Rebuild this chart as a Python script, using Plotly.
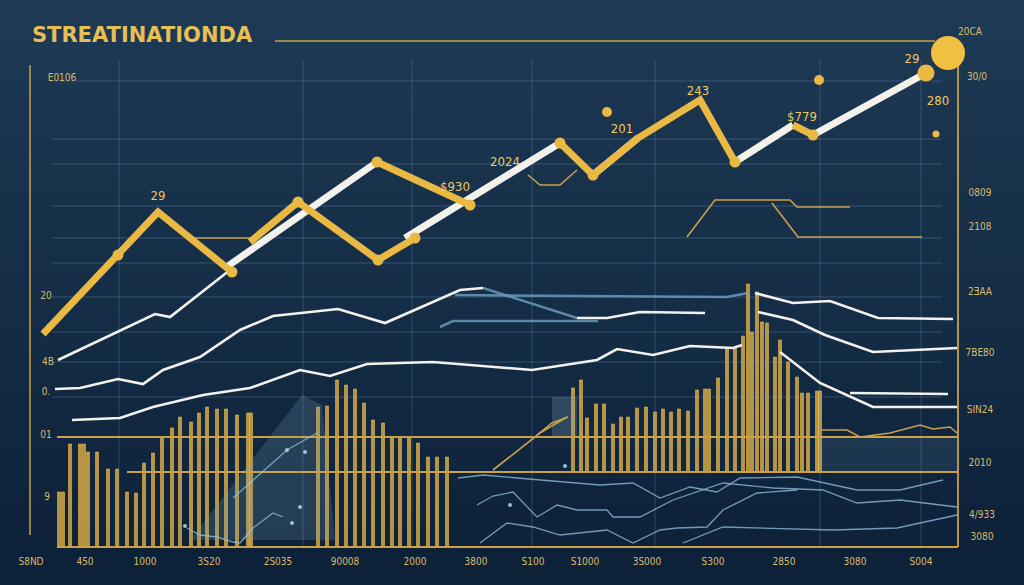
import plotly.graph_objects as go

# ---------------- data ----------------
title_text = "STREATINATIONDA"

# thick gold zig-zag segments
zig_a_x = [43, 118, 158, 232];          zig_a_y = [334, 255, 212, 272]
zig_b_x = [250, 298, 378, 415];         zig_b_y = [242, 202, 260, 238]
zig_c_x = [377, 470];                   zig_c_y = [162, 205]
zig_d_x = [560, 593, 638, 700, 735];    zig_d_y = [143, 175, 138, 100, 162]
zig_e_x = [793, 813];                   zig_e_y = [125, 135]

# thick white trend segments
trend_a_x = [228, 377];  trend_a_y = [266, 162]
trend_b_x = [405, 560];  trend_b_y = [238, 143]
trend_c_x = [593, 638];  trend_c_y = [175, 138]
trend_d_x = [735, 793];  trend_d_y = [162, 125]
trend_e_x = [813, 926];  trend_e_y = [135, 73]

# gold joint markers
joint_x = [118, 232, 378, 377, 470, 560, 593, 735, 813, 415, 298]
joint_y = [255, 272, 260, 162, 205, 143, 175, 162, 135, 238, 202]
dot_x = [607, 819, 936]
dot_y = [112, 80, 134]

# thin white lines
line1_x = [58, 100, 155, 170, 230]
line1_y = [360, 340, 314, 317, 270]
line2_x = [55, 80, 118, 143, 163, 200, 240, 273, 338, 385, 460, 483]
line2_y = [389, 388, 379, 384, 370, 357, 330, 316, 309, 323, 290, 288]
line2b_x = [577, 607, 640, 705]
line2b_y = [318, 318, 312, 313]
line3_x = [72, 120, 153, 203, 250, 300, 330, 367, 433, 532, 597, 617, 653, 690, 733, 742]
line3_y = [420, 418, 407, 395, 388, 370, 376, 364, 362, 370, 360, 349, 355, 346, 348, 345]
line4_x = [755, 793, 830, 878, 953]
line4_y = [293, 303, 301, 318, 319]
line5_x = [758, 793, 825, 873, 957]
line5_y = [312, 320, 335, 352, 348]
line6_x = [780, 820, 873, 957]
line6_y = [352, 383, 407, 407]
line7_x = [850, 948]
line7_y = [393, 394]

# steel blue lines
steel1_x = [483, 577];       steel1_y = [288, 318]
steel2_x = [455, 600, 727, 748];  steel2_y = [295, 296, 297, 293]
steel3_x = [440, 453, 598];  steel3_y = [327, 321, 321]

# gold bars (x, top) : base at bottom line
barsL_x = [59, 63, 70, 80, 84, 88, 97, 108, 117, 127, 136, 144, 153, 162, 172, 180, 191, 199, 207, 217, 226, 237, 248, 251]
barsL_top = [492, 492, 444, 444, 444, 452, 452, 469, 469, 492, 493, 463, 453, 437, 428, 417, 422, 413, 407, 409, 409, 415, 413, 413]
barsM_x = [318, 327, 337, 346, 355, 364, 373, 383, 392, 400, 409, 418, 428, 437, 447]
barsM_top = [407, 406, 380, 385, 389, 403, 420, 423, 437, 438, 438, 443, 457, 457, 457]
barsR_x = [573, 581, 587, 596, 604, 613, 621, 628, 637, 646, 655, 663, 671, 679, 688, 697, 705, 709,
           718, 727, 735, 743, 748, 752, 757, 762, 767, 775, 780, 788, 797, 802, 808, 817, 820]
barsR_top = [388, 380, 418, 404, 404, 424, 417, 417, 408, 407, 412, 409, 412, 409, 411, 390, 389, 389,
             378, 349, 348, 336, 284, 332, 292, 322, 323, 357, 340, 362, 377, 393, 393, 391, 391]

# thin gold accents
accent1_x = [528, 540, 560, 577];   accent1_y = [175, 185, 185, 170]
accent2_x = [195, 250];             accent2_y = [238, 238]
trap1_x = [687, 715, 790, 797, 850];  trap1_y = [237, 200, 200, 207, 207]
trap2_x = [772, 798, 922];            trap2_y = [203, 237, 237]
rise1_x = [493, 540, 567];            rise1_y = [470, 433, 417]
rise2_x = [537, 552, 568];            rise2_y = [435, 423, 417]
wave_x = [822, 847, 860, 890, 920, 933, 950, 957]
wave_y = [430, 430, 437, 433, 425, 429, 427, 433]

# faint blue lines in the lower band
blue_a_x = [458, 483, 517, 567, 600, 633, 660, 690, 717, 740, 797, 857, 900, 943]
blue_a_y = [478, 475, 478, 482, 485, 483, 498, 487, 492, 478, 477, 490, 490, 480]
blue_b_x = [477, 493, 513, 537, 557, 577, 607, 613, 627, 640, 673, 723, 773, 823, 857, 900, 957]
blue_b_y = [505, 496, 492, 517, 505, 510, 510, 517, 517, 517, 500, 483, 488, 490, 503, 500, 507]
blue_c_x = [480, 507, 533, 560, 607, 633, 660, 677, 707, 723, 757, 797]
blue_c_y = [543, 523, 527, 535, 530, 543, 530, 528, 527, 510, 493, 490]
blue_d_x = [683, 723, 833, 897, 957]
blue_d_y = [543, 527, 530, 528, 515]
blue_e_x = [187, 200, 217, 233, 240, 253, 273, 283]
blue_e_y = [528, 535, 537, 542, 543, 528, 513, 517]
blue_f_x = [233, 253, 287, 317]
blue_f_y = [498, 480, 450, 433]
blue_dot_x = [185, 287, 292, 300, 305, 510, 565]
blue_dot_y = [526, 450, 523, 507, 452, 505, 466]

# text labels (x, y, text)
left_lbl_x = [62, 46, 48, 46, 46, 47]
left_lbl_y = [78, 296, 362, 392, 435, 497]
left_lbl_t = ["E0106", "20", "4B", "0.", "01", "9"]
right_lbl_x = [980, 980, 980, 980, 980, 980, 982, 982, 970, 977]
right_lbl_y = [193, 227, 292, 353, 410, 463, 515, 537, 32, 77]
right_lbl_t = ["0809", "2108", "2ƎAA", "7BE80", "SIN24", "2010", "4/933", "3080", "20CA", "30/0"]
bottom_lbl_x = [31, 85, 145, 209, 278, 345, 415, 476, 533, 585, 647, 713, 784, 855, 921]
bottom_lbl_t = ["S8ND", "450", "1000", "3S20", "2S035", "90008", "2000", "3800", "S100",
                "S1000", "3S000", "S300", "2850", "3080", "S004"]
peak_lbl_x = [158, 455, 505, 622, 698, 802, 912, 938]
peak_lbl_y = [197, 188, 163, 130, 92, 118, 60, 102]
peak_lbl_t = ["29", "$930", "2024", "201", "243", "$779", "29", "280"]

# ---------------- styling ----------------
GOLD = "#e9b943"
GOLD_THIN = "#c9a14a"
WHITE = "#f3f1ec"
LBL = "#d9bb6a"

fig = go.Figure()

def seg(x, y, color, width, opacity=1.0):
    fig.add_trace(go.Scatter(x=x, y=y, mode="lines", line=dict(color=color, width=width),
                             opacity=opacity, hoverinfo="skip", showlegend=False))

def dots(x, y, color, size):
    fig.add_trace(go.Scatter(x=x, y=y, mode="markers",
                             marker=dict(color=color, size=size, opacity=1, line=dict(width=0)),
                             hoverinfo="skip", showlegend=False))

# grid
gh_y = [81, 139, 164, 206, 238, 263, 297, 332, 362, 397]
gv_x = [119, 303, 412, 532, 655, 820, 921]
for gy in gh_y:
    seg([52, 942], [gy, gy], "rgba(120,170,205,0.30)", 1)
for gx in gv_x:
    seg([gx, gx], [60, 547], "rgba(120,170,205,0.28)", 1)

# translucent mountain / panels
fig.add_trace(go.Scatter(x=[190, 302, 322, 335, 190], y=[540, 395, 405, 540, 540], fill="toself",
                         fillcolor="rgba(120,160,180,0.22)", line=dict(width=0), mode="lines",
                         hoverinfo="skip", showlegend=False))
fig.add_trace(go.Scatter(x=[552, 577, 577, 552, 552], y=[397, 397, 437, 437, 397], fill="toself",
                         fillcolor="rgba(140,170,185,0.25)", line=dict(width=0), mode="lines",
                         hoverinfo="skip", showlegend=False))
fig.add_trace(go.Scatter(x=[822, 958, 958, 822, 822], y=[437, 437, 472, 472, 437], fill="toself",
                         fillcolor="rgba(80,120,150,0.20)", line=dict(width=0), mode="lines",
                         hoverinfo="skip", showlegend=False))

# bars
def bars(xs, tops, base):
    fig.add_trace(go.Bar(x=xs, y=[t - base for t in tops], base=base, width=3.0,
                         marker=dict(color="rgba(226,178,70,0.80)", line=dict(color=GOLD, width=0.6)),
                         hoverinfo="skip", showlegend=False))
bars(barsL_x, barsL_top, 547)
bars(barsM_x, barsM_top, 547)
bars(barsR_x, barsR_top, 472)

# frame lines
seg([275, 935], [41, 41], GOLD_THIN, 1.5)
seg([958, 958], [62, 547], GOLD_THIN, 1.8)
seg([30, 30], [65, 535], GOLD_THIN, 1.5)
seg([57, 958], [547, 547], GOLD_THIN, 2)
seg([57, 958], [437, 437], GOLD_THIN, 2)
seg([127, 958], [472, 472], GOLD_THIN, 2)

# faint blue lines
for bx, by in [(blue_a_x, blue_a_y), (blue_b_x, blue_b_y), (blue_c_x, blue_c_y),
               (blue_d_x, blue_d_y), (blue_e_x, blue_e_y), (blue_f_x, blue_f_y)]:
    seg(bx, by, "rgba(150,195,225,0.75)", 1.3)
dots(blue_dot_x, blue_dot_y, "rgba(170,210,235,0.9)", 4)

# steel lines
for sx, sy in [(steel1_x, steel1_y), (steel2_x, steel2_y), (steel3_x, steel3_y)]:
    seg(sx, sy, "rgba(110,160,190,0.8)", 2.5)

# thin gold accents
for ax_, ay_ in [(accent1_x, accent1_y), (accent2_x, accent2_y), (trap1_x, trap1_y),
                 (trap2_x, trap2_y), (rise1_x, rise1_y), (rise2_x, rise2_y), (wave_x, wave_y)]:
    seg(ax_, ay_, GOLD_THIN, 1.6)

# thin white lines
for wx, wy in [(line1_x, line1_y), (line2_x, line2_y), (line2b_x, line2b_y), (line3_x, line3_y),
               (line4_x, line4_y), (line5_x, line5_y), (line6_x, line6_y), (line7_x, line7_y)]:
    seg(wx, wy, WHITE, 2.6)

# thick white trend
for tx, ty in [(trend_a_x, trend_a_y), (trend_b_x, trend_b_y), (trend_c_x, trend_c_y),
               (trend_d_x, trend_d_y), (trend_e_x, trend_e_y)]:
    seg(tx, ty, WHITE, 7)

# thick gold zig-zag
for zx, zy in [(zig_a_x, zig_a_y), (zig_b_x, zig_b_y), (zig_c_x, zig_c_y),
               (zig_d_x, zig_d_y), (zig_e_x, zig_e_y)]:
    seg(zx, zy, GOLD, 7)

dots(joint_x, joint_y, GOLD, 11)
dots(dot_x, dot_y, GOLD, [10, 10, 7])
dots([926], [73], GOLD, 17)
dots([948], [53], "#f0c040", 34)

# text
font_small = dict(family="DejaVu Sans Condensed, DejaVu Sans", size=10, color=LBL)
fig.add_trace(go.Scatter(x=left_lbl_x, y=left_lbl_y, mode="text", text=left_lbl_t,
                         textfont=font_small, hoverinfo="skip", showlegend=False))
fig.add_trace(go.Scatter(x=right_lbl_x, y=right_lbl_y, mode="text", text=right_lbl_t,
                         textfont=font_small, hoverinfo="skip", showlegend=False))
fig.add_trace(go.Scatter(x=bottom_lbl_x, y=[562] * len(bottom_lbl_x), mode="text", text=bottom_lbl_t,
                         textfont=font_small, hoverinfo="skip", showlegend=False))
fig.add_trace(go.Scatter(x=peak_lbl_x, y=peak_lbl_y, mode="text", text=peak_lbl_t,
                         textfont=dict(family="DejaVu Sans Condensed, DejaVu Sans", size=13, color="#efc85a"),
                         hoverinfo="skip", showlegend=False))

fig.add_annotation(x=30, y=35, xref="x", yref="y", text="<b>" + title_text + "</b>", showarrow=False,
                   xanchor="left", yanchor="middle",
                   font=dict(family="DejaVu Sans, sans-serif", size=21, color="#e6bf55"))

# background gradient bands
top_rgb = (30, 58, 85)
bot_rgb = (13, 33, 57)
nb = 30
shapes = []
for i in range(nb):
    t = i / (nb - 1)
    c = tuple(int(top_rgb[k] + (bot_rgb[k] - top_rgb[k]) * t) for k in range(3))
    shapes.append(dict(type="rect", xref="paper", yref="paper", x0=0, x1=1,
                       y0=1 - (i + 1) / nb, y1=1 - i / nb + 0.001,
                       fillcolor="rgb(%d,%d,%d)" % c, line=dict(width=0), layer="below"))

fig.update_layout(
    width=1024, height=585, margin=dict(l=0, r=0, t=0, b=0),
    paper_bgcolor="#132c46", plot_bgcolor="rgba(0,0,0,0)",
    xaxis=dict(range=[0, 1024], visible=False, fixedrange=True),
    yaxis=dict(range=[585, 0], visible=False, fixedrange=True),
    barmode="overlay", shapes=shapes, showlegend=False,
)

fig.write_html("out.html", config={"displayModeBar": False},
               post_script="document.body.style.margin='0';document.body.style.overflow='hidden';")
